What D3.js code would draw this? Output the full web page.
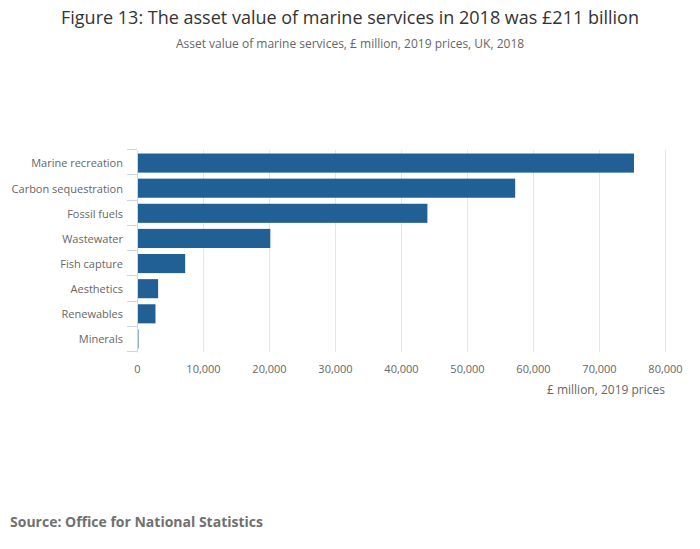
<!DOCTYPE html>
<html>
<head>
<meta charset="utf-8">
<script src="https://cdn.jsdelivr.net/npm/d3@7"></script>
<style>
  body { margin: 0; background: #fff; }
  svg { font-family: 'Open Sans', sans-serif; }
</style>
</head>
<body>
<svg></svg>
<script>
const size = {w: 700, h: 549};
const margin = {t: 150, r: 35, b: 197, l: 137};

const categories = ['Marine recreation', 'Carbon sequestration', 'Fossil fuels', 'Wastewater',
    'Fish capture', 'Aesthetics', 'Renewables', 'Minerals'];
const values = [75300, 57300, 44000, 20200, 7300, 3200, 2800, 200];
const xTicks = [0, 10000, 20000, 30000, 40000, 50000, 60000, 70000, 80000];

const svg = d3.select('svg')
    .attr('width', size.w)
    .attr('height', size.h);

const plotH = 202;

const x = d3.scaleLinear().domain([0, 80000]).range([0, 528]);
const y = d3.scaleBand().domain(categories).range([0, plotH])
    .paddingInner(0.24).paddingOuter(0.14);

// titles
svg.append('text')
    .attr('x', size.w / 2).attr('y', 24)
    .attr('text-anchor', 'middle')
    .style('font-size', '18px').style('fill', '#333')
    .text('Figure 13: The asset value of marine services in 2018 was £211 billion');
svg.append('text')
    .attr('x', size.w / 2).attr('y', 48)
    .attr('text-anchor', 'middle')
    .style('font-size', '12px').style('fill', '#666')
    .text('Asset value of marine services, £ million, 2019 prices, UK, 2018');

const g = svg.append('g')
    .attr('transform', 'translate(' + margin.l + ',' + margin.t + ')');

// gridlines
g.selectAll('line.grid')
    .data(xTicks.slice(1))
    .enter().append('line')
    .attr('class', 'grid')
    .attr('x1', d => x(d) + 0.5).attr('x2', d => x(d) + 0.5)
    .attr('y1', 0).attr('y2', plotH)
    .style('stroke', '#e6e6e6');

// bars
g.selectAll('rect')
    .data(categories)
    .enter().append('rect')
    .attr('x', 0)
    .attr('y', d => y(d))
    .attr('width', (d, i) => Math.max(1.5, x(values[i])))
    .attr('height', y.bandwidth())
    .style('fill', '#206095');

// y axis (category)
const yAxis = g.append('g')
    .call(d3.axisLeft(y).tickSize(0).tickPadding(14));
yAxis.select('.domain').style('stroke', '#ccd6eb');
yAxis.selectAll('text').style('font-size', '11px').style('fill', '#666')
    .attr('dy', '0.4em')
    .style('font-family', "'Open Sans', sans-serif");

// band boundary ticks
const bounds = d3.range(categories.length + 1).map(i => i * plotH / categories.length);
g.selectAll('line.btick')
    .data(bounds)
    .enter().append('line')
    .attr('class', 'btick')
    .attr('x1', -10).attr('x2', 0)
    .attr('y1', d => Math.round(d) - 0.5).attr('y2', d => Math.round(d) - 0.5)
    .style('stroke', '#ccd6eb');

// x axis
const xAxis = g.append('g')
    .attr('transform', 'translate(0,' + plotH + ')')
    .call(d3.axisBottom(x).tickValues(xTicks).tickFormat(d3.format(',')).tickSize(0).tickPadding(13));
xAxis.select('.domain').remove();
xAxis.selectAll('text').style('font-size', '11px').style('fill', '#666')
    .style('font-family', "'Open Sans', sans-serif");

g.append('text')
    .attr('x', x(80000)).attr('y', 244)
    .attr('text-anchor', 'end')
    .style('font-size', '12px').style('fill', '#666')
    .text('£ million, 2019 prices');

// source
svg.append('text')
    .attr('x', 10).attr('y', 527)
    .style('font-size', '14px').style('font-weight', 'bold').style('fill', '#707070')
    .text('Source: Office for National Statistics');
</script>
</body>
</html>
